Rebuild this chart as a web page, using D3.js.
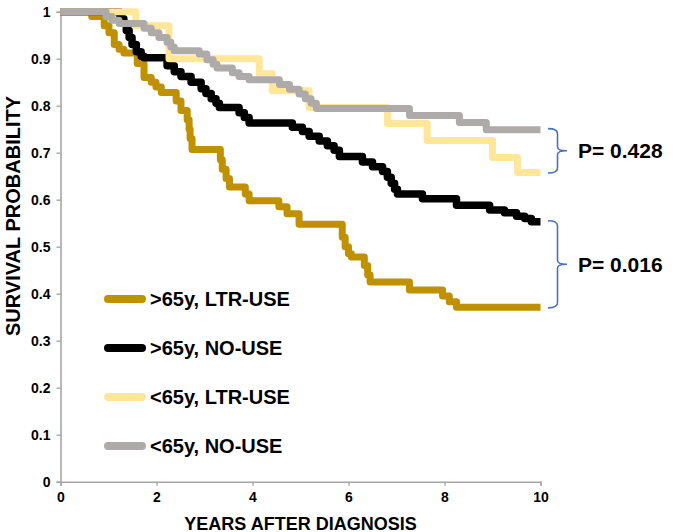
<!DOCTYPE html>
<html>
<head>
<meta charset="utf-8">
<script src="https://cdn.jsdelivr.net/npm/d3@7"></script>
<style>
  html, body { margin: 0; padding: 0; background: #fff; }
  svg { display: block; font-family: Arial, "Liberation Sans", sans-serif; font-weight: bold; }
</style>
</head>
<body>
<svg id="chart" width="673" height="532"></svg>
<script>
// ---- data ----
const seriesNames = [">65y, LTR-USE", ">65y, NO-USE", "<65y, LTR-USE", "<65y, NO-USE"];
const seriesColors = ["#BF9000", "#000000", "#FFE699", "#AEAAAA"];

const goldTimes = [0, 0.65, 0.91, 1.01, 1.12, 1.22, 1.32, 1.60, 1.74, 1.89, 1.99, 2.10, 2.41, 2.51, 2.64, 2.68, 2.70, 2.74, 3.33, 3.37, 3.45, 3.52, 3.85, 3.93, 4.55, 4.72, 4.97, 5.87, 5.93, 6.00, 6.06, 6.33, 6.40, 6.45, 7.27, 7.96, 8.10, 8.25];
const goldSurv  = [1, 0.99, 0.97, 0.955, 0.93, 0.92, 0.912, 0.89, 0.86, 0.85, 0.84, 0.828, 0.81, 0.79, 0.77, 0.75, 0.73, 0.707, 0.685, 0.665, 0.645, 0.627, 0.612, 0.598, 0.585, 0.57, 0.548, 0.52, 0.50, 0.485, 0.478, 0.46, 0.44, 0.425, 0.408, 0.395, 0.383, 0.371];

const blackTimes = [0, 1.24, 1.32, 1.37, 1.43, 1.49, 1.58, 1.68, 1.74, 2.22, 2.37, 2.51, 2.72, 2.93, 3.03, 3.14, 3.24, 3.31, 3.72, 3.83, 3.93, 4.83, 5.04, 5.18, 5.39, 5.56, 5.70, 5.81, 6.29, 6.50, 6.71, 6.81, 6.89, 6.96, 7.02, 7.54, 8.25, 8.94, 9.25, 9.50, 9.67, 9.81];
const blackSurv  = [1, 0.985, 0.975, 0.96, 0.945, 0.93, 0.915, 0.905, 0.902, 0.885, 0.872, 0.862, 0.85, 0.836, 0.826, 0.815, 0.805, 0.796, 0.785, 0.775, 0.763, 0.754, 0.745, 0.735, 0.725, 0.715, 0.705, 0.692, 0.68, 0.67, 0.66, 0.648, 0.635, 0.622, 0.612, 0.602, 0.588, 0.578, 0.572, 0.565, 0.56, 0.553];

const yellowTimes = [0, 1.57, 2.26, 4.14, 4.41, 5.18, 6.81, 7.64, 9.0, 9.52];
const yellowSurv  = [1, 0.97, 0.90, 0.868, 0.832, 0.796, 0.762, 0.726, 0.69, 0.658];

const grayTimes = [0, 0.95, 1.07, 1.22, 1.74, 1.89, 2.05, 2.22, 2.30, 2.37, 2.89, 3.05, 3.18, 3.26, 3.58, 3.72, 3.93, 4.56, 4.77, 4.97, 5.10, 5.22, 5.33, 7.27, 8.31, 8.87];
const graySurv  = [1, 0.99, 0.982, 0.975, 0.965, 0.955, 0.945, 0.935, 0.925, 0.917, 0.91, 0.898, 0.888, 0.88, 0.87, 0.862, 0.855, 0.845, 0.835, 0.825, 0.815, 0.805, 0.794, 0.779, 0.764, 0.749];

const xTicks = [0, 2, 4, 6, 8, 10];
const yTicks = [0, 0.1, 0.2, 0.3, 0.4, 0.5, 0.6, 0.7, 0.8, 0.9, 1];
const pLabels = ["P= 0.428", "P= 0.016"];
const xTitle = "YEARS AFTER DIAGNOSIS";
const yTitle = "SURVIVAL PROBABILITY";
const maxYear = 10;

// ---- layout ----
const svg = d3.select("#chart");
const x = d3.scaleLinear().domain([0, 10]).range([60.5, 540.5]);
const y = d3.scaleLinear().domain([0, 1]).range([481.7, 11.7]);
const axisColor = "#A6A6A6";

// axes
const xAxis = svg.append("g").attr("transform", `translate(0,${y(0)})`)
  .call(d3.axisBottom(x).tickValues(xTicks).tickFormat(d3.format("d")).tickSizeOuter(0).tickSize(4).tickPadding(6));
const yAxis = svg.append("g").attr("transform", `translate(${x(0)},0)`)
  .call(d3.axisLeft(y).tickValues(yTicks).tickFormat(d => d === 0 || d === 1 ? d3.format("d")(d) : d3.format(".1f")(d)).tickSizeOuter(0).tickSize(4).tickPadding(6));
[xAxis, yAxis].forEach(g => {
  g.attr("font-size", 14).attr("font-family", "Arial, 'Liberation Sans', sans-serif").attr("font-weight", "bold");
  g.select(".domain").attr("stroke", axisColor).attr("stroke-width", 1.6);
  g.selectAll(".tick line").attr("stroke", axisColor).attr("stroke-width", 1.4);
  g.selectAll(".tick text").attr("fill", "#000");
});

// axis titles
svg.append("text").attr("x", 300.5).attr("y", 529.5).attr("text-anchor", "middle")
  .attr("font-size", 18).text(xTitle);
svg.append("text").attr("transform", "translate(19.5,216) rotate(-90)").attr("text-anchor", "middle")
  .attr("font-size", 20).text(yTitle);

// curves
const allTimes = [goldTimes, blackTimes, yellowTimes, grayTimes];
const allSurv = [goldSurv, blackSurv, yellowSurv, graySurv];
const widths = [7, 7.5, 7, 7];
const line = d3.line().x(d => x(d[0])).y(d => y(d[1])).curve(d3.curveStepAfter);
allTimes.forEach((t, i) => {
  const s = allSurv[i];
  const pts = t.map((tt, j) => [tt, s[j]]);
  pts.push([maxYear, s[s.length - 1]]);
  svg.append("path").attr("d", line(pts)).attr("fill", "none")
    .attr("stroke", seriesColors[i]).attr("stroke-width", widths[i])
    .attr("stroke-linejoin", "round").attr("stroke-linecap", "butt");
});

// legend
const legendY0 = 299, legendStep = 49;
seriesNames.forEach((name, i) => {
  const ly = legendY0 + i * legendStep;
  svg.append("line").attr("x1", 108).attr("x2", 142).attr("y1", ly).attr("y2", ly)
    .attr("stroke", seriesColors[i]).attr("stroke-width", 8).attr("stroke-linecap", "round");
  svg.append("text").attr("x", 150).attr("y", ly + 7).attr("font-size", 20).text(name);
});

// brackets with p-values
const endVal = s => s[s.length - 1];
const pairs = [[endVal(graySurv), endVal(yellowSurv)], [endVal(blackSurv), endVal(goldSurv)]];
const bx = 557.5, bl = 548, tipX = 567;
pairs.forEach((pr, i) => {
  const top = y(pr[0]) - 1, bot = y(pr[1]) + 0.5, mid = (top + bot) / 2;
  const p = d3.path();
  p.moveTo(bl, top);
  p.quadraticCurveTo(bx, top, bx, top + 5);
  p.lineTo(bx, mid - 4);
  p.quadraticCurveTo(bx, mid, tipX - 1, mid);
  p.lineTo(tipX, mid);
  p.moveTo(tipX - 1, mid);
  p.quadraticCurveTo(bx, mid, bx, mid + 4);
  p.lineTo(bx, bot - 5);
  p.quadraticCurveTo(bx, bot, bl, bot);
  svg.append("path").attr("d", p.toString()).attr("fill", "none")
    .attr("stroke", "#4472C4").attr("stroke-width", 1.6);
  svg.append("text").attr("x", 578).attr("y", mid + 7.5).attr("font-size", 21).text(pLabels[i]);
});
</script>
</body>
</html>
